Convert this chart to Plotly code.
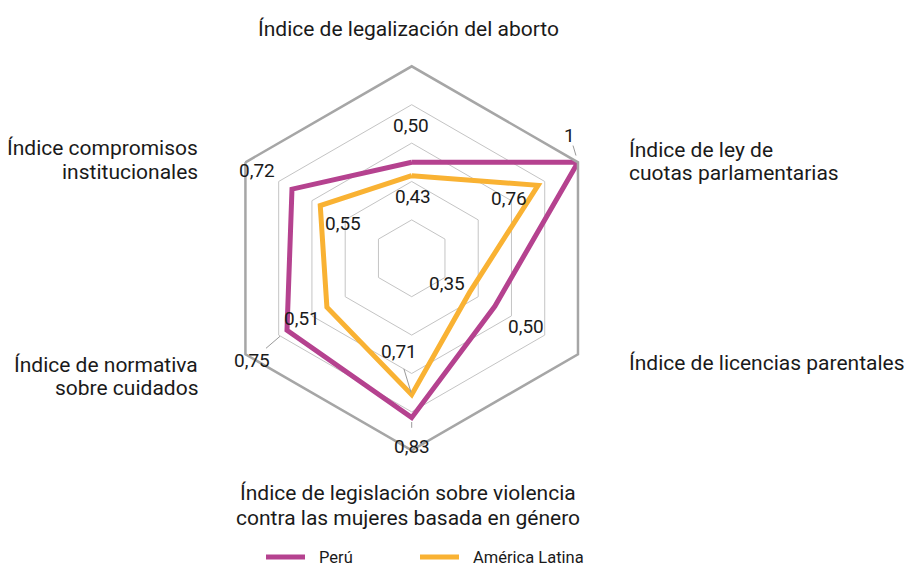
import plotly.graph_objects as go
import math

categories = [
    "Índice de legalización del aborto",
    "Índice de ley de cuotas parlamentarias",
    "Índice de licencias parentales",
    "Índice de legislación sobre violencia contra las mujeres basada en género",
    "Índice de normativa sobre cuidados",
    "Índice compromisos institucionales",
]
cat_lines = [
    ["Índice de legalización del aborto"],
    ["Índice de ley de", "cuotas parlamentarias"],
    ["Índice de licencias parentales"],
    ["Índice de legislación sobre violencia", "contra las mujeres basada en género"],
    ["Índice de normativa", "sobre cuidados"],
    ["Índice compromisos", "institucionales"],
]
peru = [0.50, 1.00, 0.50, 0.83, 0.75, 0.72]
peru_labels = ["0,50", "1", "0,50", "0,83", "0,75", "0,72"]
al = [0.43, 0.76, 0.35, 0.71, 0.51, 0.55]
al_labels = ["0,43", "0,76", "0,35", "0,71", "0,51", "0,55"]
series_names = ["Perú", "América Latina"]

C_PERU = "#B5428F"
C_AL = "#F9B233"
FONT = "Roboto, sans-serif"
TXT = "#1a1a1a"

W, H = 904, 566
CX, CY, R = 411.7, 258.3, 192.0  # polar center/radius in pixels

def px(x):
    return x / W

def py(y):
    return 1 - y / H

fig = go.Figure()
for vals, name, col in [(al, series_names[1], C_AL), (peru, series_names[0], C_PERU)]:
    fig.add_trace(go.Scatterpolar(
        r=vals + vals[:1], theta=categories + categories[:1], mode="lines",
        line=dict(color=col, width=5), name=name, showlegend=False,
        hoverinfo="r+theta+name",
    ))

fig.update_layout(
    width=W, height=H,
    margin=dict(l=0, r=0, t=0, b=0),
    paper_bgcolor="white", plot_bgcolor="white",
    font=dict(family=FONT, color=TXT),
    polar=dict(
        domain=dict(x=[px(CX - R), px(CX + R)], y=[py(CY + R), py(CY - R)]),
        gridshape="linear",
        bgcolor="white",
        radialaxis=dict(range=[0, 1], tickvals=[0.2, 0.4, 0.6, 0.8, 1.0],
                        showticklabels=False, ticks="", showline=False,
                        gridcolor="#c4c4c4", gridwidth=1),
        angularaxis=dict(rotation=90, direction="clockwise", showgrid=False,
                         showticklabels=False, ticks="", showline=True,
                         linecolor="#a6a6a6", linewidth=2.5),
    ),
)

n = len(categories)

def vertex(v, i):
    a = math.radians(90 - i * 360 / n)
    return CX + R * v * math.cos(a), CY - R * v * math.sin(a)

# data labels: offsets (pixels) from each vertex
peru_off = [(-1, -37), (-8, -27), (31, 20), (0, 29), (-35, 30), (-35, -19)]
al_off = [(1, 21), (-29, 13), (-23, -8), (-13, -43), (-25, 11), (23, 18)]
ann = []
for vals, labs, offs in [(peru, peru_labels, peru_off), (al, al_labels, al_off)]:
    for i in range(n):
        vx, vy = vertex(vals[i], i)
        ann.append(dict(x=px(vx + offs[i][0]), y=py(vy + offs[i][1]), xref="paper", yref="paper",
                        text=labs[i], showarrow=False, font=dict(size=19, color=TXT),
                        xanchor="center", yanchor="middle"))

# leader lines (fraction of the way from vertex toward its label)
shapes = []
leaders = [(peru, 1, peru_off, 0.25, 0.62), (peru, 4, peru_off, 0.2, 0.6),
           (al, 3, al_off, 0.05, 0.6), (peru, 3, peru_off, 0.15, 0.35)]
for vals, i, offs, f0, f1 in leaders:
    vx, vy = vertex(vals[i], i)
    dx, dy = offs[i]
    shapes.append(dict(type="line", xref="paper", yref="paper",
                       x0=px(vx + dx * f0), y0=py(vy + dy * f0),
                       x1=px(vx + dx * f1), y1=py(vy + dy * f1),
                       line=dict(color="#9a9a9a", width=1)))

# category labels (one annotation per line)
cat_pos = [(408, [29], "center"), (627, [150, 173], "left"), (627, [363], "left"),
           (408, [493, 518], "center"), (200, [365, 388], "right"), (200, [148, 172], "right")]
for lines, (x, ys, anc) in zip(cat_lines, cat_pos):
    for t, y in zip(lines, ys):
        ann.append(dict(x=px(x), y=py(y), xref="paper", yref="paper", text=t, showarrow=False,
                        font=dict(size=21, color=TXT), xanchor=anc, yanchor="middle"))

# legend
leg = [(266, series_names[0], C_PERU), (420, series_names[1], C_AL)]
for x0, name, col in leg:
    shapes.append(dict(type="line", xref="paper", yref="paper", x0=px(x0), x1=px(x0 + 39),
                       y0=py(557), y1=py(557), line=dict(color=col, width=5)))
    ann.append(dict(x=px(x0 + 51), y=py(557), xref="paper", yref="paper", text=name,
                    showarrow=False, font=dict(size=16.5, color=TXT),
                    xanchor="left", yanchor="middle"))

fig.update_layout(annotations=ann, shapes=shapes)
fig.write_html("out.html", config={"displayModeBar": False},
               post_script="document.body.style.margin='0';document.body.style.padding='0';")
